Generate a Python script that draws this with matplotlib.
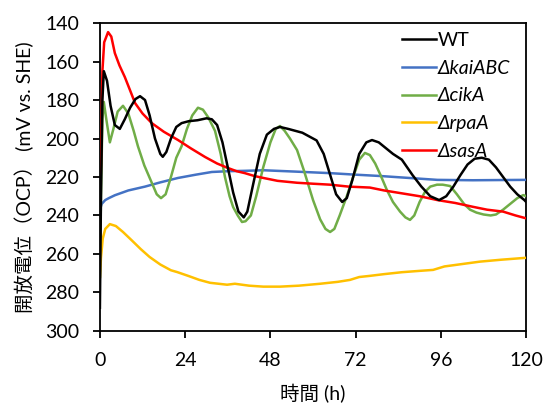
import matplotlib

matplotlib.use("Agg")
import matplotlib.pyplot as plt

plt.rcParams.update(
    {
        "font.family": ["Lato", "Noto Sans CJK JP", "DejaVu Sans"],
        "font.size": 14,
        "axes.linewidth": 1.3,
        "xtick.major.width": 1.3,
        "ytick.major.width": 1.3,
        "xtick.major.size": 5,
        "ytick.major.size": 5,
    }
)

# ---------------------------------------------------------------------------
# Open-circuit potential traces (time in h, potential in mV vs. SHE)
# ---------------------------------------------------------------------------

wt_t = [0, 0.3, 0.7, 1.1, 2.0, 3.0, 4.2, 5.6, 7.0, 8.5, 10.0, 11.3, 12.7, 14.0,
        15.5, 17.0, 17.7, 18.7, 20.0, 21.5, 23.0, 25.0, 27.5, 30.0, 31.5, 33.0,
        34.5, 36.0, 37.5, 39.0, 40.5, 41.5, 43.0, 45.0, 47.0, 49.0, 50.7, 53.0,
        55.0, 57.0, 59.0, 61.0, 63.0, 65.0, 66.5, 68.2, 69.5, 71.0, 73.0, 75.0,
        76.6, 78.5, 80.5, 82.5, 85.0, 88.0, 90.5, 93.0, 95.5, 97.5, 99.5, 101.5,
        103.5, 105.5, 107.5, 109.5, 111.5, 113.5, 115.5, 117.5, 119.5, 120]
wt_v = [288, 230, 180, 165, 170, 183, 193, 195, 190, 184, 179.5, 178, 180, 188,
        200, 208, 209.5, 207, 200, 194, 192, 191, 190.5, 189.5, 190, 193,
        202, 215, 228, 238, 241, 238, 225, 208, 198, 195, 194, 195,
        196, 197, 199, 201, 208, 220, 229, 233, 231, 222, 208, 202,
        200.8, 202, 205, 208, 211, 219, 225, 230, 232, 230, 225, 219,
        213.5, 210.5, 210, 211, 215, 220, 225, 229, 232, 233]

kai_t = [0, 0.5, 1.5, 2.5, 4.2, 8, 12.7, 17, 22, 27, 31.5, 36, 40.8, 46, 55,
         64.8, 72, 79, 87, 95, 105, 112, 120]
kai_v = [237, 234, 232, 231, 229.5, 227, 225, 222.8, 220.5, 218.8, 217.4, 217,
         216.8, 216.5, 217.2, 218, 218.8, 219.5, 220.5, 221.5, 221.7, 221.6, 221.5]

cik_t = [0, 0.3, 0.7, 1.1, 1.8, 2.8, 3.8, 5.0, 6.5, 8.0, 9.5, 10.7, 12.5, 14.6,
         16.0, 17.2, 18.5, 20.0, 21.5, 23.0, 24.5, 26.0, 27.6, 29.0, 30.5, 32.4,
         34.0, 35.2, 36.5, 37.5, 38.8, 40.0, 41.0, 42.5, 44.0, 46.0, 48.0, 49.5,
         50.7, 52.0, 53.5, 55.5, 57.5, 60.0, 62.0, 63.5, 64.8, 66.0, 67.5, 69.5,
         71.3, 73.0, 74.6, 76.0, 77.5, 79.0, 80.8, 82.5, 84.5, 86.0, 87.3, 88.5,
         90.0, 91.5, 93.0, 94.9, 96.5, 98.6, 100.5, 102.5, 104.2, 106.0, 108.0,
         110.0, 111.5, 113.5, 115.5, 117.5, 119.2, 120]
cik_v = [272, 230, 190, 181, 190, 202, 195, 186, 183, 187, 196, 204, 214, 223,
         229, 231, 229, 220, 210, 204, 195, 188, 184, 185, 189, 196,
         208, 220, 230, 235.6, 240, 243.4, 243, 240, 230, 214.8, 202, 195,
         193.5, 196, 200, 206, 217, 232, 242, 247, 248.6, 247, 240, 230,
         220, 211, 207.5, 208.6, 213, 219, 226.8, 233, 238, 241, 242.3, 240,
         233, 227.8, 225, 224, 224, 224.7, 229, 234, 237, 238.5, 239.5,
         240, 239.5, 237, 234, 231, 229.4, 230]

rpa_t = [0, 0.3, 0.8, 1.5, 2.8, 4.5, 6.5, 9, 11.5, 14, 17, 20, 21.7, 25, 28, 31,
         35.8, 38, 42, 46, 50.7, 56, 62, 67, 70.4, 73, 76, 80, 85, 90, 93.8, 97,
         101, 107, 113, 120]
rpa_v = [272, 262, 252, 247, 244.5, 245.5, 248.6, 253, 257.5, 261.6, 265.5,
         268.5, 269.4, 271.5, 273.5, 275, 276, 275.5, 276.5, 277, 277, 276.5,
         275.5, 274.5, 273.5, 272, 271.4, 270.5, 269.5, 268.8, 268.3, 266.5,
         265.5, 264, 263, 262]

sas_t = [0, 0.3, 0.7, 1.2, 2.3, 3.2, 4.2, 5.5, 7.0, 8.5, 9.9, 12.0, 14.6, 18.0,
         22.0, 25.5, 29.6, 33.0, 36.0, 38.5, 40.8, 43.5, 46.0, 50.0, 55.5, 60.0,
         64.8, 70.0, 76.0, 80.0, 85.0, 90.0, 95.0, 100.0, 105.0, 109.0, 113.5,
         117.0, 120]
sas_v = [252, 210, 165, 150, 144.7, 147, 155.6, 162, 168, 175, 181.6, 187, 192,
         196.5, 200.8, 205, 209.6, 213, 215.3, 217, 218, 219.5, 220.5, 222, 223,
         223.5, 224, 225, 225.5, 227, 228.5, 230, 232, 233.5, 235.5, 237, 238,
         240, 241.5]

x_ticks = [0, 24, 48, 72, 96, 120]
y_ticks = [140, 160, 180, 200, 220, 240, 260, 280, 300]

series = [
    ("WT", wt_t, wt_v, "black"),
    ("ΔkaiABC", kai_t, kai_v, "#4472C4"),
    ("ΔcikA", cik_t, cik_v, "#70AD47"),
    ("ΔrpaA", rpa_t, rpa_v, "#FFC000"),
    ("ΔsasA", sas_t, sas_v, "#FF0000"),
]

fig = plt.figure(figsize=(5.43, 4.05), dpi=100)
ax = fig.add_axes([0.184, 0.183, 0.785, 0.760])

# WT stays on top of the mutants
for i, (label, t, v, color) in enumerate(series):
    ax.plot(t, v, color=color, lw=1.8, label=label, zorder=5 if i == 0 else 3)

ax.set_xlim(0, 120)
ax.set_ylim(300, 140)
ax.set_xticks(x_ticks)
ax.set_yticks(y_ticks)
ax.tick_params(axis="x", direction="out", labelsize=14, pad=10)
ax.tick_params(axis="y", direction="out", labelsize=14, pad=10)

ax.set_xlabel("時間 (h)", fontsize=14, labelpad=11)
ax.set_ylabel("開放電位（OCP） (mV vs. SHE)", fontsize=14, labelpad=8)

leg = ax.legend(
    loc="upper right",
    bbox_to_anchor=(0.995, 1.015),
    frameon=False,
    fontsize=14,
    handlelength=1.75,
    handletextpad=0.08,
    labelspacing=0.55,
    borderaxespad=0.3,
)
for txt in leg.get_texts()[1:]:
    txt.set_fontstyle("italic")

fig.savefig("out.png", dpi=100)
